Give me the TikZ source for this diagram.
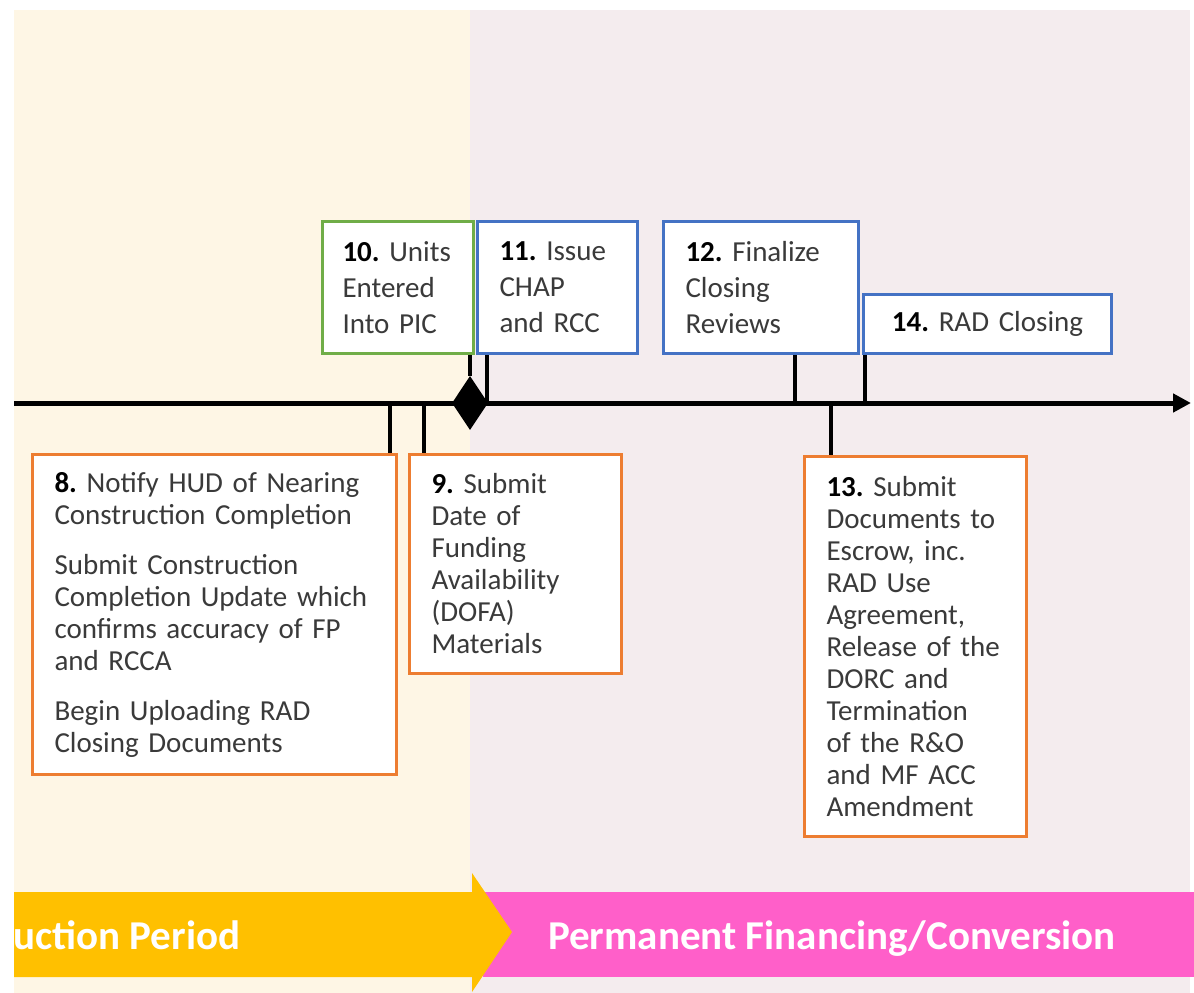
\documentclass[tikz,border=0pt]{standalone}
\usepackage{fontspec}
\setmainfont{Carlito}
\usetikzlibrary{shapes.geometric, arrows.meta}
\definecolor{cream}{HTML}{FEF6E5}
\definecolor{rosebg}{HTML}{F4ECEE}
\definecolor{bgreen}{HTML}{70AD47}
\definecolor{bblue}{HTML}{4472C4}
\definecolor{borange}{HTML}{ED7D31}
\definecolor{txt}{HTML}{3A3A3A}
\definecolor{bandyellow}{HTML}{FFC000}
\definecolor{bandpink}{HTML}{FF5FC9}
\frenchspacing
\begin{document}
\begin{tikzpicture}[x=1pt,y=-1pt,
  box/.style={draw, line width=3pt, fill=white, anchor=north west, inner xsep=22pt, inner ysep=0pt,
    align=left, text=txt, font=\fontsize{29}{32}\selectfont},
  topbox/.style={box, font=\fontsize{29}{36}\selectfont},
  conn/.style={line width=4.5pt},
  bandtext/.style={text=white, inner sep=0pt, font=\fontsize{41}{41}\selectfont\bfseries}]
\useasboundingbox (0,0) rectangle (1194,993);
\fill[white] (0,0) rectangle (1194,993);
% backgrounds
\fill[cream] (14,10) rectangle (470,993);
\fill[rosebg] (470,10) rectangle (1190,993);
% bottom bands
\fill[bandpink] (483,892) rectangle (1194,977);
\fill[bandyellow] (14,892) -- (472,892) -- (472,873) -- (512,932) -- (472,992) -- (472,977) -- (14,977) -- cycle;
\node[bandtext, anchor=base west] (cp) at (13,949) {uction Period};
\node[bandtext, anchor=base west] (pf) at (548,949) {Permanent Financing/Conversion};
% timeline
\coordinate (tl0) at (14,403);
\coordinate (tl1) at (1191,403);
\draw[line width=5pt, -{Triangle[length=18pt,width=18pt]}] (tl0) -- (tl1);
% timeline points
\coordinate (t8) at (390,403);
\coordinate (t9) at (424,403);
\coordinate (t11) at (487,403);
\coordinate (t12) at (795,403);
\coordinate (t13) at (831,403);
\coordinate (t14) at (865,403);
% boxes
\node[topbox, draw=bgreen, inner xsep=20pt, minimum width=151pt, minimum height=132pt, text width=111pt] (b10) at (321,220)
  {\textbf{\color{black}10.} Units\\Entered\\Into PIC};
\node[topbox, draw=bblue, minimum width=160pt, minimum height=132pt, text width=116pt] (b11) at (476,220)
  {\textbf{\color{black}11.} Issue\\CHAP\\and RCC};
\node[topbox, draw=bblue, minimum width=195pt, minimum height=132pt, text width=151pt] (b12) at (662,220)
  {\textbf{\color{black}12.} Finalize\\Closing\\Reviews};
\node[topbox, draw=bblue, minimum width=248pt, minimum height=59pt, text width=204pt, align=center] (b14) at (862,293)
  {\textbf{\color{black}14.} RAD Closing};
\node[box, draw=borange, minimum width=364pt, minimum height=320pt, text width=320pt] (b8) at (31,453)
  {\textbf{\color{black}8.} Notify HUD of Nearing\\Construction Completion\\[18pt]Submit Construction\\Completion Update which\\confirms accuracy of FP\\and RCCA\\[18pt]Begin Uploading RAD\\Closing Documents};
\node[box, draw=borange, minimum width=212pt, minimum height=219pt, text width=168pt] (b9) at (408,453)
  {\textbf{\color{black}9.} Submit\\Date of\\Funding\\Availability\\(DOFA)\\Materials};
\node[box, draw=borange, minimum width=222pt, minimum height=380pt, text width=178pt] (b13) at (803,455)
  {\textbf{\color{black}13.} Submit\\Documents to\\Escrow, inc.\\RAD Use\\Agreement,\\Release of the\\DORC and\\Termination\\of the R\&O\\and MF ACC\\Amendment};
% diamond milestone
\node[diamond, fill=black, inner sep=0pt, minimum width=36pt, minimum height=54pt] (dia) at (470,403) {};
% connectors
\draw[conn] (b10.south -| dia.north) -- (dia.north);
\draw[conn] (b11.south -| t11) -- (t11);
\draw[conn] (b12.south -| t12) -- (t12);
\draw[conn] (b14.south -| t14) -- (t14);
\draw[conn] (t8) -- (b8.north -| t8);
\draw[conn] (t9) -- (b9.north -| t9);
\draw[conn] (t13) -- (b13.north -| t13);
\end{tikzpicture}
\end{document}
